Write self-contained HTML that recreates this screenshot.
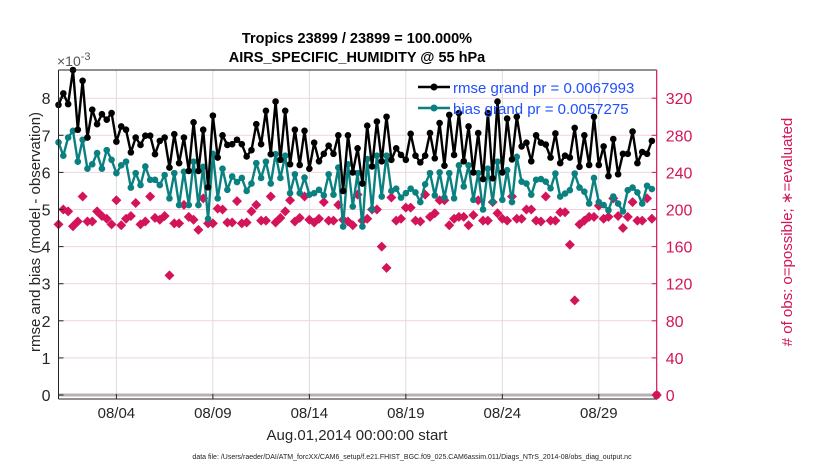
<!DOCTYPE html>
<html><head><meta charset="utf-8"><style>
body{margin:0;background:#fff;}
svg{display:block;font-family:"Liberation Sans",sans-serif;}
</style></head><body>
<svg id="chart" width="830" height="470" viewBox="0 0 830 470"></svg>
<script>
const dayTicks=[3,8,13,18,23,28];
const dayTickLabels=["08/04","08/09","08/14","08/19","08/24","08/29"];
const leftTicks=[0,1,2,3,4,5,6,7,8];
const rightTicks=[0,40,80,120,160,200,240,280,320];
const rmse=[7.82,8.13,7.84,8.76,7.15,8.47,6.94,7.69,7.3,7.57,7.42,7.6,6.83,7.24,7.15,6.54,6.94,6.74,6.99,6.99,6.49,6.85,6.94,6.13,7.03,6.25,6.94,6.04,7.35,6.04,7.15,5.6,
7.53,6.4,7.0,6.74,6.76,6.88,6.76,6.43,6.6,7.3,6.76,7.66,6.49,7.91,6.34,7.66,6.22,7.15,6.2,7.12,6.1,6.8,6.3,6.5,6.72,6.5,7.0,5.5,7.0,6.0,6.65,
5.7,7.26,6.16,7.37,6.3,7.5,6.34,6.65,6.47,6.34,7.04,6.45,6.27,6.45,7.06,6.38,7.33,6.18,7.55,6.47,7.6,6.3,7.24,6.0,7.06,5.82,7.6,5.84,7.91,6.0,
7.45,6.35,7.5,6.7,6.8,6.3,7.0,6.8,6.75,6.4,7.05,6.25,6.45,6.4,7.2,6.15,7.0,6.2,7.5,6.2,6.7,5.9,6.9,5.95,6.5,6.5,7.1,6.25,6.55,6.5,6.85];
const bias=[6.81,6.45,6.94,7.12,6.29,6.88,6.1,6.22,6.52,6.1,6.6,6.34,5.98,6.19,6.29,5.59,5.98,5.66,6.16,5.8,5.8,5.66,5.93,5.3,5.98,5.12,6.02,5.12,6.29,5.12,6.15,4.75,
6.5,5.3,6.1,5.53,5.89,5.74,5.85,5.5,5.7,6.25,5.85,6.29,5.7,6.49,5.85,6.45,5.44,5.95,5.44,5.86,5.4,5.44,5.53,5.38,5.95,5.4,6.13,4.54,6.22,5.08,
5.98,4.54,6.36,5.0,6.45,5.35,6.45,5.5,5.56,5.32,5.44,5.56,5.46,5.2,5.68,5.98,5.38,6.0,5.32,5.98,5.3,6.19,5.62,6.19,5.26,5.98,5.0,6.1,5.2,6.29,5.26,
6.06,5.2,6.42,5.75,5.7,5.4,5.8,5.82,5.75,5.57,5.97,5.35,5.43,5.52,5.97,5.59,5.48,5.16,5.85,5.2,5.12,4.98,5.35,5.16,4.95,5.52,5.59,5.46,5.16,5.64,5.55];
const obsCount=[184,200,198,182,187,214,187,187,198,193,190,184,210,183,190,193,207,184,187,214,191,189,193,129,185,185,205,192,189,178,212,185,185,201,200,186,186,209,185,186,
198,205,188,188,214,186,191,198,210,187,191,214,189,186,190,208,188,188,205,189,187,183,
216,188,190,200,200,160,137,213,188,190,202,202,188,187,216,192,196,210,210,183,190,192,192,183,194,210,188,188,208,196,190,
188,214,190,190,200,200,188,187,214,188,188,197,197,162,102,184,188,192,192,204,190,192,212,193,180,192,208,188,188,212,190,0];

const NS="http://www.w3.org/2000/svg";
const svg=document.getElementById('chart');
const X0=58.5,X1=656.7,Y0=395,YT=70,UNIT=37.1;
const xs=d=>X0+d*(X1-X0)/31;
const yl=v=>Y0-v*UNIT;
const yr=c=>Y0-c*UNIT/40;
const xi=i=>xs(i*0.25);
function mk(tag,attrs,parent){const e=document.createElementNS(NS,tag);for(const k in attrs)e.setAttribute(k,attrs[k]);(parent||svg).appendChild(e);return e;}
const RED="#d4145a",TEAL="#0b8080";

const grid=mk('g',{});


leftTicks.forEach(t=>{const l=mk('line',{x1:X0,x2:X1,y1:yl(t),y2:yl(t),stroke:'#f0d4e0','stroke-width':1},grid);

});
dayTicks.forEach(d=>{const l=mk('line',{x1:xs(d),x2:xs(d),y1:YT,y2:Y0+4,stroke:'#dcdcdc','stroke-width':1},grid);

});

const zl=mk('line',{x1:X0,x2:X1,y1:Y0,y2:Y0,stroke:'#bcaeb6','stroke-width':3});



// red obs markers
const og=mk('g',{fill:RED});


obsCount.forEach((c,i)=>{const x=xi(i),y=yr(c);const p=mk('polygon',{points:`${x},${y-5} ${x+5},${y} ${x},${y+5} ${x-5},${y}`},og);

});

function series(vals,color,name){
 const g=mk('g',{});
 
 
 const pts=vals.map((v,i)=>xi(i).toFixed(1)+','+yl(v).toFixed(1)).join(' ');
 const pl=mk('polyline',{points:pts,fill:'none',stroke:color,'stroke-width':2.4,'stroke-linejoin':'round'},g);
 
 
 vals.forEach((v,i)=>{const c=mk('circle',{cx:xi(i),cy:yl(v),r:3.3,fill:color},g);
 
 });
}
series(bias,TEAL,'bias-series');
series(rmse,'#000','rmse-series');

// axes
const ax=mk('g',{});


mk('line',{x1:X0,x2:X1,y1:YT,y2:YT,stroke:'#222','stroke-width':1},ax);
mk('line',{x1:X0,x2:X1,y1:Y0+4,y2:Y0+4,stroke:'#222','stroke-width':1},ax);
mk('line',{x1:X0,x2:X0,y1:YT,y2:Y0+4,stroke:'#222','stroke-width':1},ax);
mk('line',{x1:X1,x2:X1,y1:YT,y2:Y0+4,stroke:RED,'stroke-width':1.2},ax);
leftTicks.forEach(t=>{mk('line',{x1:X0,x2:X0+5,y1:yl(t),y2:yl(t),stroke:'#222'},ax);
const tx=mk('text',{x:X0-8,y:yl(t)+6,'text-anchor':'end','font-size':16,fill:'#262626'},ax);tx.textContent=t;

});
rightTicks.forEach(t=>{mk('line',{x1:X1-5,x2:X1,y1:yr(t),y2:yr(t),stroke:RED},ax);
const tx=mk('text',{x:X1+9,y:yr(t)+6,'font-size':16,fill:RED},ax);tx.textContent=t;

});
dayTicks.forEach((d,k)=>{mk('line',{x1:xs(d),x2:xs(d),y1:Y0+4,y2:Y0-1,stroke:'#222'},ax);
const tx=mk('text',{x:xs(d),y:418,'text-anchor':'middle','font-size':15,fill:'#262626'},ax);tx.textContent=dayTickLabels[k];

});
const lp=mk('circle',{cx:X1,cy:Y0,r:4,fill:RED});


</script>
<svg width="830" height="470" style="position:absolute;left:0;top:0">
<text x="357" y="43" text-anchor="middle" font-size="14.5" font-weight="bold" fill="#000">Tropics 23899 / 23899 = 100.000%</text>
<text x="357" y="62" text-anchor="middle" font-size="14.5" font-weight="bold" fill="#000">AIRS_SPECIFIC_HUMIDITY @ 55 hPa</text>
<text x="57" y="66" font-size="14" fill="#555">×10<tspan dy="-6" font-size="11">-3</tspan></text>
<text transform="translate(40,232) rotate(-90)" text-anchor="middle" font-size="15" fill="#262626">rmse and bias (model - observation)</text>
<text transform="translate(792,232) rotate(-90)" text-anchor="middle" font-size="15" fill="#d4145a"># of obs: o=possible; ∗=evaluated</text>
<text x="357" y="440" text-anchor="middle" font-size="15" fill="#262626">Aug.01,2014 00:00:00 start</text>
<text x="412" y="459" text-anchor="middle" font-size="7" fill="#222">data file: /Users/raeder/DAI/ATM_forcXX/CAM6_setup/f.e21.FHIST_BGC.f09_025.CAM6assim.011/Diags_NTrS_2014-08/obs_diag_output.nc</text>
<g>
<line x1="418" x2="450" y1="87" y2="87" stroke="#000" stroke-width="2.4"/><circle cx="434" cy="87" r="3.5" fill="#000"/>
<text x="453" y="93" font-size="15" fill="#1f4fff">rmse grand pr = 0.0067993</text>
<line x1="418" x2="450" y1="108" y2="108" stroke="#0b8080" stroke-width="2.4"/><circle cx="434" cy="108" r="3.5" fill="#0b8080"/>
<text x="453" y="114" font-size="15" fill="#1f4fff">bias grand pr = 0.0057275</text>
</g>
</svg>
</body></html>
